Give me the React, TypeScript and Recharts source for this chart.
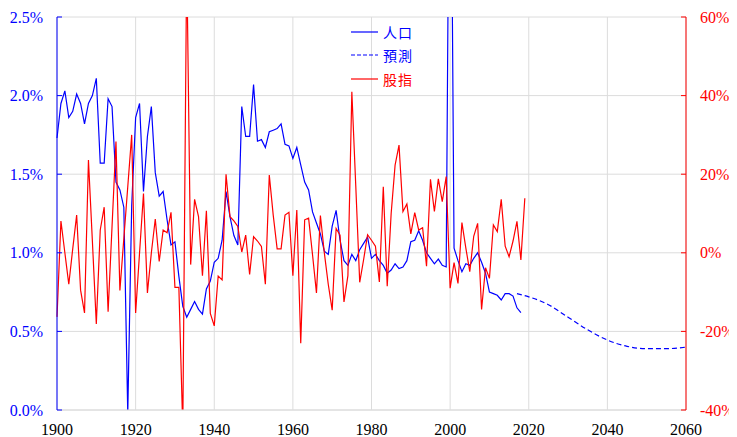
/* Population growth vs. stock index returns, 1900-2060. */

import { CartesianGrid, Line, LineChart, XAxis, YAxis } from "recharts";

const START_YEAR = 1900;

// annual population growth, %, 1900-2018 (left axis)
const popGrowth = [
  1.73, 1.95, 2.03, 1.86, 1.9, 2.01, 1.95, 1.82, 1.95, 2.0,
  2.11, 1.57, 1.57, 1.98, 1.93, 1.45, 1.4, 1.29, -0.02, 1.3,
  1.86, 1.95, 1.39, 1.74, 1.93, 1.51, 1.36, 1.39, 1.21, 1.05,
  1.07, 0.85, 0.66, 0.59, 0.64, 0.69, 0.64, 0.61, 0.77, 0.82,
  0.94, 0.965, 1.08, 1.39, 1.23, 1.11, 1.05, 1.93, 1.74, 1.74,
  2.07, 1.71, 1.72, 1.67, 1.77, 1.78, 1.79, 1.82, 1.69, 1.68,
  1.6, 1.67, 1.56, 1.45, 1.4, 1.26, 1.19, 1.12, 1.01, 0.99,
  1.17, 1.27, 1.08, 0.95, 0.92, 0.99, 0.95, 1.02, 1.06, 1.1,
  0.965, 0.99, 0.95, 0.92, 0.87, 0.89, 0.93, 0.9, 0.91, 0.95,
  1.07, 1.08, 1.14, 1.08, 1.0, 0.965, 0.93, 0.96, 0.92, 0.91,
  4.5, 1.03, 0.95, 0.88, 0.93, 0.92, 0.965, 1.0, 0.94, 0.87,
  0.75, 0.74, 0.73, 0.7, 0.74, 0.74, 0.725, 0.65, 0.62,
];

// annual stock index return, %, 1900-2019 (right axis)
const stockReturn = [
  -16.3, 8.1, 0, -8, 1, 9.6, -9.5, -15.3, 23.6, 3,
  -18.1, 5.8, 11.6, -15, 6.7, 28.3, -9.6, 3.6, 16.8, 30,
  -15.3, 0, 15.1, -10.2, 0, 8.6, -2.2, 5.8, 5.1, 10.3,
  -8.8, -8.8, -45, 75, -3, 13.6, 9.2, -5.8, 10.7, -15.4,
  -18.6, -5.9, -6.9, 20, 9.2, 8.1, 6.7, 0.2, 4.5, -5.5,
  4.1, 3.0, 1.6, -8, 19.8, 9.6, 1, 1, 9.6, 10.3,
  -5.8, 10.9, -23, 8.4, 8.8, -0.5, -10.2, 9.5, 0, -8,
  -14.6, 6.2, 4.5, -12.5, -5.8, 41, 17, -7.5, -1.7, 4.6,
  3.2, 1.7, -7.4, 16.8, -8.5, 10, 22.3, 27.4, 10.5, 12.4,
  4.8, 10.2, 5.8, 6.4, -3.4, 18.7, 10.5, 18.8, 13, 19.4,
  -9, -2.5, -7.8, 7.7, 1.2, -4.8, 4.2, 7.5, -14.4, -3.8,
  -6.5, 7.1, 5.4, 13.6, 1.7, -1, 3, 8, -1.8, 13.9,
];

// projected population growth, %
const forecastYears = [2017, 2020, 2025, 2030, 2035, 2040, 2045, 2050, 2055, 2060];
const forecastGrowth = [0.74, 0.72, 0.67, 0.59, 0.51, 0.445, 0.405, 0.39, 0.39, 0.4];

const yearTicks = [1900, 1920, 1940, 1960, 1980, 2000, 2020, 2040, 2060];
const leftTicks = [0, 0.5, 1, 1.5, 2, 2.5];
const rightTicks = [-40, -20, 0, 20, 40, 60];

const legendItems = [
  { name: "人口", color: "#0000ff", dash: undefined },
  { name: "預測", color: "#0000ff", dash: "4 2" },
  { name: "股指", color: "#ff0000", dash: undefined },
];

const popData = popGrowth.map((v, i) => ({ year: START_YEAR + i, pop: v }));
const stockData = stockReturn.map((v, i) => ({ year: START_YEAR + i, stock: v }));
const forecastData = forecastYears.map((y, i) => ({ year: y, forecast: forecastGrowth[i] }));

const SERIF = "'Liberation Serif', 'Times New Roman', serif";
const CJK = "'Liberation Serif', 'Noto Sans CJK TC', serif";

const fmtLeft = (v: number) => `${v.toFixed(1)}%`;
const fmtRight = (v: number) => `${v}%`;

// tick label in serif; "side" tells where the text hangs from the anchor
function makeTick(color: string, side: "bottom" | "left" | "right", fmt?: (v: number) => string) {
  return (props: any) => {
    const { x, y, payload } = props;
    const label = fmt ? fmt(payload.value) : String(payload.value);
    const anchor = side === "bottom" ? "middle" : side === "left" ? "end" : "start";
    const dy = side === "bottom" ? "0.71em" : "0.35em";
    return (
      <text x={x} y={y} dy={dy} textAnchor={anchor} fill={color} fontSize={16} style={{ fontFamily: SERIF }}>
        {label}
      </text>
    );
  };
}

// legend drawn as an overlay so it takes no room from the plot
function LegendBox() {
  return (
    <div style={{ position: "absolute", top: 12, left: 343, fontFamily: CJK, fontSize: 14 }}>
      {legendItems.map((item) => (
        <div key={item.name} style={{ height: 23.5, display: "flex", alignItems: "center" }}>
          <svg width={27} height={4}>
            <line x1={0} y1={2} x2={27} y2={2} stroke={item.color} strokeWidth={1.2} strokeDasharray={item.dash} />
          </svg>
          <span style={{ marginLeft: 5, color: item.color, letterSpacing: 1 }}>{item.name}</span>
        </div>
      ))}
    </div>
  );
}

export default function App() {
  return (
    <div style={{ position: "relative", width: 729, height: 429 }}>
      <LineChart width={729} height={429} margin={{ top: 9, right: 0, bottom: 0, left: 0 }}>
        <CartesianGrid yAxisId="left" stroke="#dcdcdc" />
        <XAxis
          dataKey="year"
          type="number"
          domain={[1900, 2060]}
          ticks={yearTicks}
          allowDuplicatedCategory={false}
          height={27}
          tickLine={false}
          tickSize={0}
          tickMargin={14}
          axisLine={{ stroke: "#dcdcdc" }}
          tick={makeTick("#000", "bottom")}
        />
        <YAxis
          yAxisId="left"
          orientation="left"
          domain={[0, 2.5]}
          ticks={leftTicks}
          allowDataOverflow
          width={49}
          tickSize={-5}
          tickMargin={19}
          stroke="#0000ff"
          tick={makeTick("#0000ff", "left", fmtLeft)}
        />
        <YAxis
          yAxisId="right"
          orientation="right"
          domain={[-40, 60]}
          ticks={rightTicks}
          allowDataOverflow
          width={51}
          tickSize={-5}
          tickMargin={19}
          stroke="#ff0000"
          tick={makeTick("#ff0000", "right", fmtRight)}
        />
        <Line
          yAxisId="left"
          data={popData}
          dataKey="pop"
          name="人口"
          type="linear"
          stroke="#0000ff"
          strokeWidth={1.2}
          dot={false}
          isAnimationActive={false}
        />
        <Line
          yAxisId="left"
          data={forecastData}
          dataKey="forecast"
          name="預測"
          type="monotone"
          stroke="#0000ff"
          strokeWidth={1.2}
          strokeDasharray="5 3"
          dot={false}
          isAnimationActive={false}
        />
        <Line
          yAxisId="right"
          data={stockData}
          dataKey="stock"
          name="股指"
          type="linear"
          stroke="#ff0000"
          strokeWidth={1.2}
          dot={false}
          isAnimationActive={false}
        />
      </LineChart>
      <LegendBox />
    </div>
  );
}
